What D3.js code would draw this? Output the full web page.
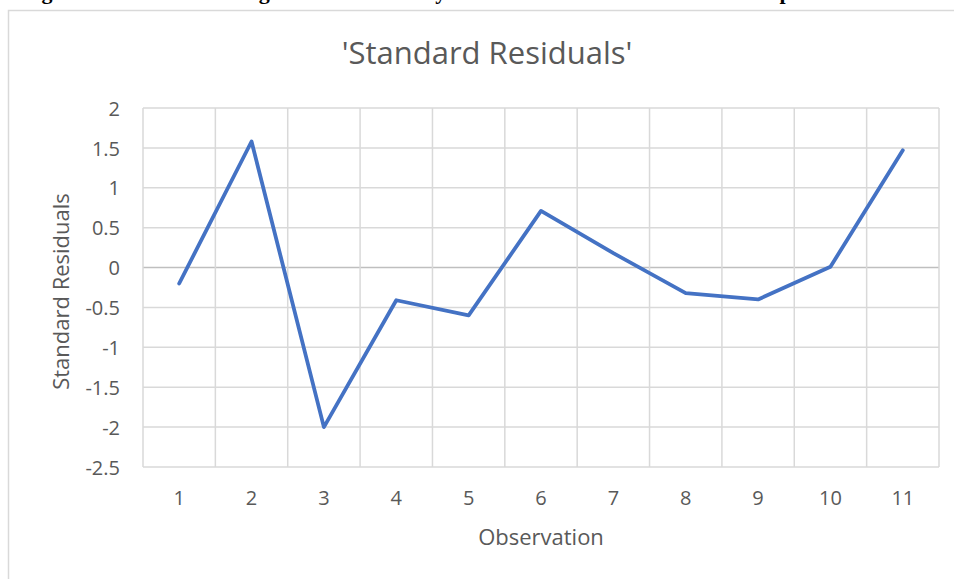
<!DOCTYPE html>
<meta charset="utf-8">
<script src="https://d3js.org/d3.v7.min.js"></script>
<style>
  body { margin: 0; background: #fff; }
  text { font-family: "Open Sans", sans-serif; fill: #595959; }
</style>
<div id="chart"></div>
<script>
  // data
  var observations = ["1", "2", "3", "4", "5", "6", "7", "8", "9", "10", "11"];
  var residuals = [-0.2, 1.58, -2.0, -0.41, -0.6, 0.71, 0.18, -0.32, -0.4, 0.01, 1.47];
  var yTicks = [2, 1.5, 1, 0.5, 0, -0.5, -1, -1.5, -2, -2.5];

  var chartTitle = "'Standard Residuals'";
  var xTitle = "Observation";
  var yTitle = "Standard Residuals";
  // caption line of the page above the chart, mostly cut off at the top
  var caption = ["Figure 5: The Standard", "Regression Model", "by", "Observation for", "Sample"];

  var W = 954, H = 579;
  var margin = { top: 108, right: 15, bottom: 112, left: 143 },
    width = W - margin.left - margin.right,
    height = H - margin.top - margin.bottom;

  var root = d3.select("#chart")
    .append("svg")
    .style("display", "block")
    .attr("width", W)
    .attr("height", H);

  // page caption (clipped by the window top, only descenders show)
  var cap = root.append("text")
    .attr("y", -1)
    .style("font-family", "'Liberation Serif', serif")
    .style("font-weight", "bold")
    .style("font-size", "22px")
    .style("fill", "#000");
  var capX = [22, 233, 423, 560, 738];
  caption.forEach(function (c, i) {
    cap.append("tspan").attr("x", capX[i]).text(c);
  });

  // chart area border
  root.append("rect")
    .attr("x", 8.5)
    .attr("y", 10.5)
    .attr("width", W)
    .attr("height", H)
    .attr("fill", "none")
    .attr("stroke", "#d9d9d9")
    .attr("stroke-width", 1.5);

  var svg = root.append("g")
    .attr("transform", "translate(" + margin.left + "," + margin.top + ")");

  var x = d3.scaleBand().domain(observations).range([0, width]);
  var y = d3.scaleLinear().domain([-2.5, 2]).range([height, 0]);

  // horizontal gridlines
  svg.append("g")
    .selectAll("line")
    .data(yTicks)
    .enter()
    .append("line")
    .attr("x1", 0)
    .attr("x2", width)
    .attr("y1", function (d) { return y(d); })
    .attr("y2", function (d) { return y(d); })
    .attr("stroke", function (d) { return d === 0 ? "#bfbfbf" : "#d9d9d9"; })
    .attr("stroke-width", 1.5);

  // vertical gridlines at category edges
  var edges = observations.map(function (d) { return x(d); }).concat([width]);
  svg.append("g")
    .selectAll("line")
    .data(edges)
    .enter()
    .append("line")
    .attr("x1", function (d) { return d; })
    .attr("x2", function (d) { return d; })
    .attr("y1", 0)
    .attr("y2", height)
    .attr("stroke", "#d9d9d9")
    .attr("stroke-width", 1.5);

  // y axis labels
  var yAxis = svg.append("g")
    .attr("transform", "translate(-23,0)")
    .call(d3.axisLeft(y).tickValues(yTicks).tickSize(0).tickFormat(function (d) { return d; }));
  yAxis.select(".domain").remove();
  yAxis.selectAll("text")
    .attr("x", 0)
    .attr("dy", "0.36em")
    .style("font-size", "20px")
    .style("fill", "#595959");

  // x axis labels
  var xAxis = svg.append("g")
    .attr("transform", "translate(0," + height + ")")
    .call(d3.axisBottom(x).tickSize(0));
  xAxis.select(".domain").remove();
  xAxis.selectAll("text")
    .attr("y", 38)
    .attr("dy", 0)
    .style("font-size", "20px")
    .style("fill", "#595959");

  // the line
  var line = d3.line()
    .x(function (d, i) { return x(observations[i]) + x.bandwidth() / 2; })
    .y(function (d) { return y(d); });

  svg.append("path")
    .datum(residuals)
    .attr("d", line)
    .attr("fill", "none")
    .attr("stroke", "#4472c4")
    .attr("stroke-width", 3.8)
    .attr("stroke-linejoin", "round")
    .attr("stroke-linecap", "round");

  // titles
  root.append("text")
    .attr("x", 487)
    .attr("y", 64)
    .attr("text-anchor", "middle")
    .style("font-size", "31px")
    .text(chartTitle);

  svg.append("text")
    .attr("x", width / 2)
    .attr("y", height + 78)
    .attr("text-anchor", "middle")
    .style("font-size", "22px")
    .text(xTitle);

  svg.append("text")
    .attr("transform", "rotate(-90)")
    .attr("x", -height / 2 - 4)
    .attr("y", -74)
    .attr("text-anchor", "middle")
    .style("font-size", "22px")
    .text(yTitle);
</script>
